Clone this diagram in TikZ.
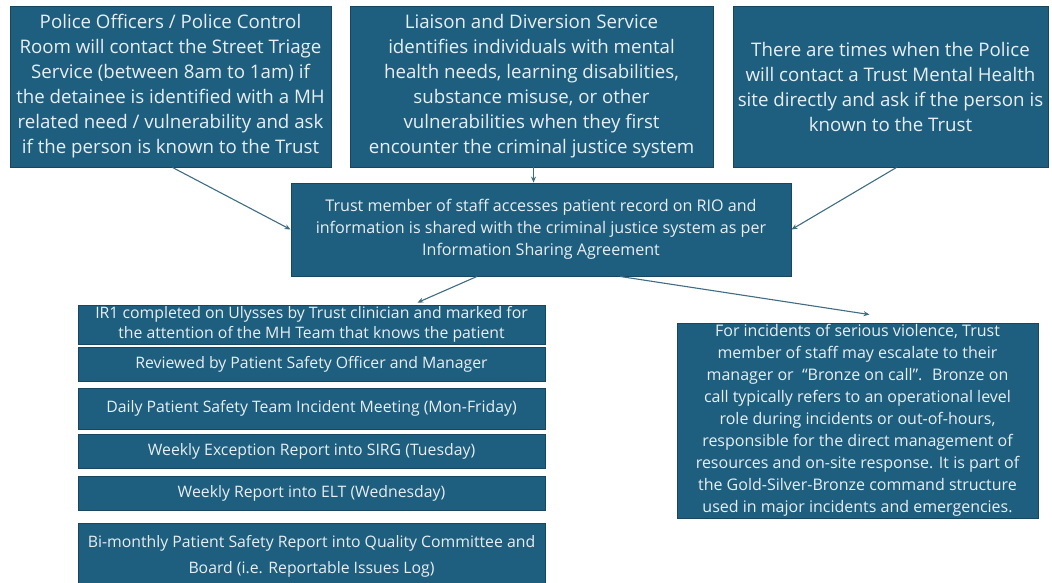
\documentclass[tikz,border=0pt]{standalone}
\usepackage{fontspec}
\setmainfont{Open Sans}
\usetikzlibrary{arrows.meta}
\definecolor{boxfill}{RGB}{30,94,126}
\definecolor{boxline}{RGB}{22,70,96}
\definecolor{boxtext}{RGB}{232,239,244}
\definecolor{arrowcol}{RGB}{62,108,130}
\tikzset{
  box/.style={draw=boxline, line width=0.9pt, fill=boxfill, text=boxtext,
    align=center, inner sep=0pt, anchor=center},
  bigtext/.style={font=\fontsize{18.7}{25}\selectfont},
  midtext/.style={font=\fontsize{16.1}{22}\selectfont},
  smalltext/.style={font=\fontsize{15.8}{22}\selectfont},
  bronzetext/.style={font=\fontsize{16}{22}\selectfont},
  flow/.style={draw=arrowcol, line width=1.1pt,
    -{Stealth[length=6pt,width=5pt]}},
}
\begin{document}
\begin{tikzpicture}[x=1pt,y=-1pt]
\useasboundingbox (0,0) rectangle (1052,582);
\begin{scope}
\clip (0,0) rectangle (1052,582);

% top row: three entry routes
\node[box, bigtext, minimum width=321, minimum height=161] (police) at (170.5,86.5)
  {Police Officers / Police Control\\Room will contact the Street Triage\\Service (between 8am to 1am) if\\the detainee is identified with a MH\\related need / vulnerability and ask\\if the person is known to the Trust};
\node[box, bigtext, minimum width=363, minimum height=161] (liaison) at (531.5,86.5)
  {Liaison and Diversion Service\\identifies individuals with mental\\health needs, learning disabilities,\\substance misuse, or other\\vulnerabilities when they first\\encounter the criminal justice system};
\node[box, bigtext, minimum width=315, minimum height=161] (direct) at (890.5,86.5)
  {There are times when the Police\\will contact a Trust Mental Health\\site directly and ask if the person is\\known to the Trust};

% central step
\node[box, midtext, minimum width=500, minimum height=93] (rio) at (541,229.5)
  {Trust member of staff accesses patient record on RIO and\\information is shared with the criminal justice system as per\\Information Sharing Agreement};

% reporting chain
\node[box, minimum width=467, minimum height=39, font=\fontsize{15.8}{20}\selectfont] (ir1) at (311.5,324.5)
  {IR1 completed on Ulysses by Trust clinician and marked for\\the attention of the MH Team that knows the patient};
\node[box, smalltext, minimum width=467, minimum height=34] (review) at (311.5,364)
  {Reviewed by Patient Safety Officer and Manager};
\node[box, smalltext, minimum width=467, minimum height=41] (daily) at (311.5,408.5)
  {Daily Patient Safety Team Incident Meeting (Mon-Friday)};
\node[box, smalltext, minimum width=467, minimum height=34] (sirg) at (311.5,451)
  {Weekly Exception Report into SIRG (Tuesday)};
\node[box, smalltext, minimum width=467, minimum height=34] (elt) at (311.5,493)
  {Weekly Report into ELT (Wednesday)};
\node[box, minimum width=467, minimum height=67, font=\fontsize{15.8}{26}\selectfont] (board) at (311.5,556.5)
  {Bi-monthly Patient Safety Report into Quality Committee and\\Board (i.e. Reportable Issues Log)};

% escalation
\node[box, bronzetext, minimum width=361, minimum height=195] (bronze) at (857.5,420.5)
  {For incidents of serious violence, Trust\\member of staff may escalate to their\\manager or ~``Bronze on call''. ~Bronze on\\call typically refers to an operational level\\role during incidents or out-of-hours,\\responsible for the direct management of\\resources and on-site response. It is part of\\the Gold-Silver-Bronze command structure\\used in major incidents and emergencies.};
\end{scope}

% connectors
\draw[flow] ([xshift=2]police.south) -- (rio.west);
\draw[flow] ([xshift=2]liaison.south) -- ([xshift=2]liaison.south |- rio.north);
\draw[flow] ([xshift=6]direct.south) -- (rio.east);
\draw[flow] ([xshift=-64]rio.south) -- ([xshift=106,yshift=2]ir1.north);
\draw[flow] ([xshift=79]rio.south) -- ([xshift=12,yshift=8]bronze.north);
\end{tikzpicture}
\end{document}
